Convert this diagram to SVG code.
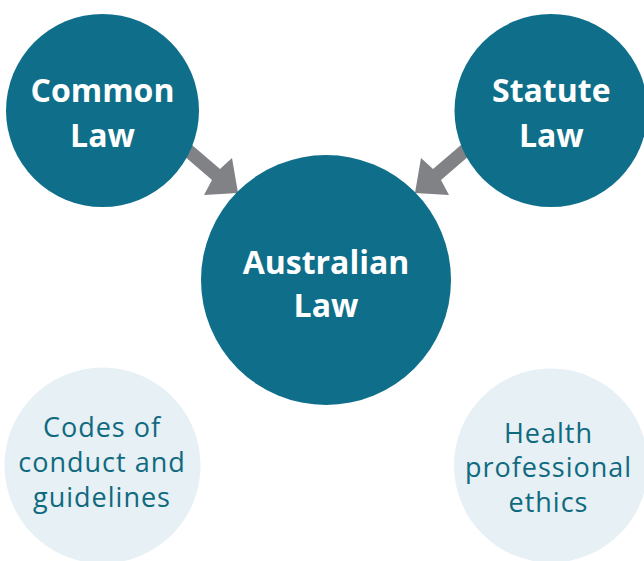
<svg xmlns="http://www.w3.org/2000/svg" width="644" height="561" viewBox="0 0 644 561">
<style>
.main{fill:#0f6f8a}
.light{fill:#e6f0f5}
.bt{font-family:"Open Sans","Liberation Sans",sans-serif;font-weight:bold;font-size:32px;fill:#ffffff;text-anchor:middle}
.rt{font-family:"Open Sans","Liberation Sans",sans-serif;font-size:27px;letter-spacing:1px;fill:#0f6a80;text-anchor:middle}
.arrow{fill:#808285}
</style>
<rect width="644" height="561" fill="#ffffff"/>
<g id="connectors">
<polygon class="arrow" points="183,155 192,145 220,169 232,158 238,193 204,195 212,180"/>
<polygon class="arrow" points="470,155 461,145 433,169 421,158 415,193 449,195 441,180"/>
</g>
<g id="common-law">
<circle class="main" cx="102.5" cy="110.5" r="96.5"/>
<text class="bt" x="102.5" y="101.7">Common</text>
<text class="bt" x="102.5" y="146.7">Law</text>
</g>
<g id="statute-law">
<circle class="main" cx="551" cy="110.5" r="96.5"/>
<text class="bt" x="551.3" y="101.7">Statute</text>
<text class="bt" x="551.3" y="146.7">Law</text>
</g>
<g id="australian-law">
<circle class="main" cx="326" cy="280" r="125"/>
<text class="bt" x="326" y="274.3">Australian</text>
<text class="bt" x="326" y="316.7">Law</text>
</g>
<g id="codes">
<circle class="light" cx="102.5" cy="465.5" r="98"/>
<text class="rt" x="102" y="437.3">Codes of</text>
<text class="rt" x="102" y="472.3">conduct and</text>
<text class="rt" x="102" y="506.7">guidelines</text>
</g>
<g id="ethics">
<circle class="light" cx="551" cy="465.5" r="97"/>
<text class="rt" x="548.5" y="442.7">Health</text>
<text class="rt" x="548.5" y="477.3">professional</text>
<text class="rt" x="548.5" y="511.7">ethics</text>
</g>
</svg>
